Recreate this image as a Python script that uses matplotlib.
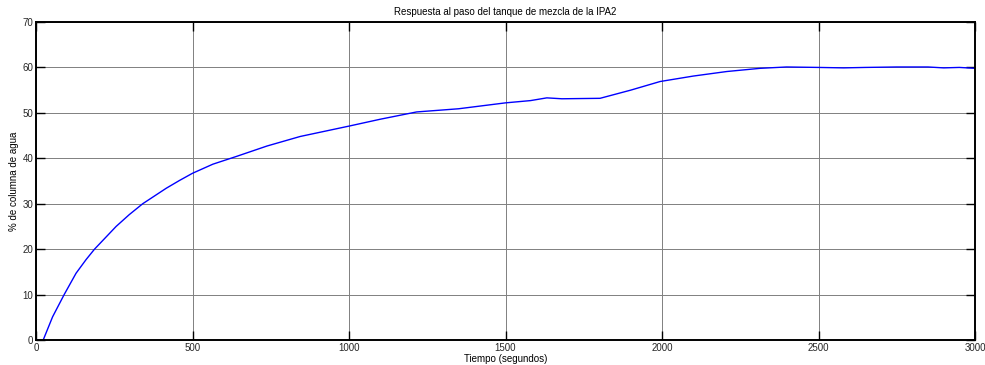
#!/usr/bin/env python3
# -*- coding: utf-8 -*-

import matplotlib.pyplot as plt

# Valeurs
tiempo = [0, 23, 53, 90, 128, 160, 187, 256, 298, 341, 416, 458, 500, 565, 640, 738, 844, 1001,
          1100, 1216, 1350, 1500, 1580, 1632, 1680, 1802, 1900, 1994, 2100, 2207,
          2313, 2398, 2500, 2580, 2650, 2750, 2850, 2900, 2950, 3000]
nivel = [0, 0, 5.1, 10, 14.7, 17.7, 20, 25.0, 27.6, 30, 33.4, 35.1, 36.7, 38.7, 40.4, 42.7, 44.8, 47.1,
         48.6, 50.2, 50.9, 52.2, 52.7, 53.3, 53.1, 53.2, 55.0, 56.9, 58.1, 59.1,
         59.8, 60.1, 60.0, 59.9, 60.0, 60.1, 60.1, 59.9, 60.0, 59.8]

plt.rcParams['font.family'] = ['Liberation Sans', 'DejaVu Sans']

fig = plt.figure(figsize=(9.85, 3.65), dpi=100)
ax = fig.add_axes([36/985, 1-340/365, 939/985, 318/365])

ax.plot(tiempo, nivel, color='#0000ff', lw=1.0)

ax.set_xlim(0, 3000)
ax.set_ylim(0, 70)
ax.set_xticks(range(0, 3001, 500))
ax.set_yticks(range(0, 71, 10))
ax.grid(True, color='0.5', lw=0.7)
ax.tick_params(direction='in', top=True, right=True, length=6.5, width=1,
               labelsize=7, pad=2, colors='black', labelcolor='0.15')
for s in ax.spines.values():
    s.set_linewidth(1.4)

ax.set_title("Respuesta al paso del tanque de mezcla de la IPA2", fontsize=7, pad=5)
ax.set_xlabel("Tiempo (segundos)", fontsize=7, labelpad=1)
ax.set_ylabel("% de columna de agua", fontsize=7)
ax.yaxis.set_label_coords(-0.0186, 0.5)

fig.savefig('out.png', dpi=100)
